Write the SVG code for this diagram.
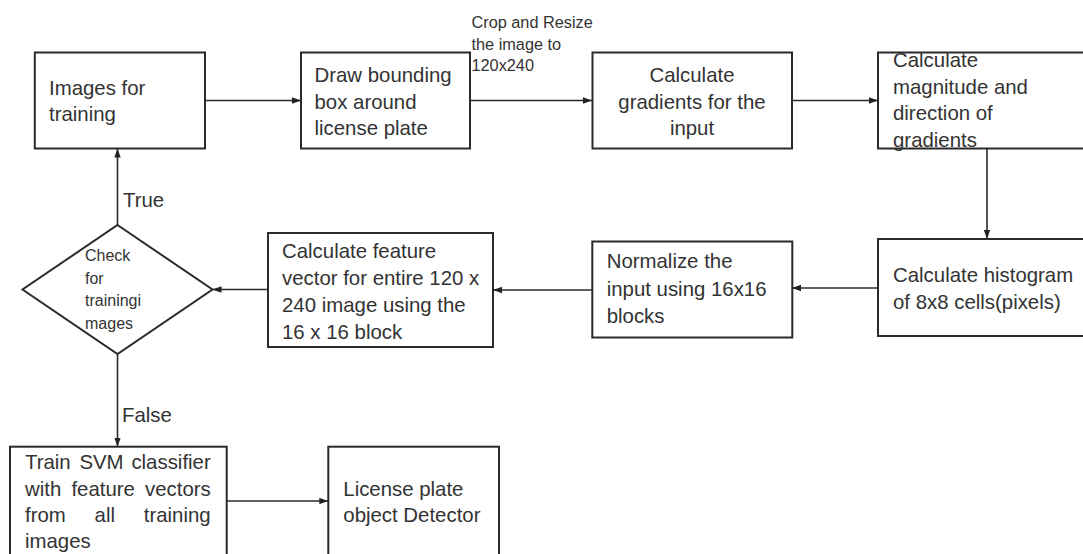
<svg xmlns="http://www.w3.org/2000/svg" width="1083" height="554" viewBox="0 0 1083 554">
<defs>
<marker id="ah" markerUnits="userSpaceOnUse" markerWidth="9" markerHeight="8" refX="9" refY="4" orient="auto">
<path d="M0,0.8 L9,4 L0,7.2 z" fill="#222"/>
</marker>
<style>
.box{fill:#fff;stroke:#2a2a2a;stroke-width:2}
.t{font-family:"Liberation Sans",Arial,sans-serif;font-size:20.4px;fill:#333}
.s{font-family:"Liberation Sans",Arial,sans-serif;font-size:16.3px;fill:#333}
.d{font-family:"Liberation Sans",Arial,sans-serif;font-size:16px;fill:#333}
.c{fill:none;stroke:#2a2a2a;stroke-width:1.6}
</style>
</defs>
<rect width="1083" height="554" fill="#fff"/>
<g id="connectors">
<line class="c" x1="205" y1="100.5" x2="301" y2="100.5" marker-end="url(#ah)"/>
<line class="c" x1="470" y1="100.5" x2="592" y2="100.5" marker-end="url(#ah)"/>
<line class="c" x1="792" y1="100.5" x2="878" y2="100.5" marker-end="url(#ah)"/>
<line class="c" x1="987" y1="148.5" x2="987" y2="239" marker-end="url(#ah)"/>
<line class="c" x1="878" y1="288" x2="792" y2="288" marker-end="url(#ah)"/>
<line class="c" x1="592" y1="290" x2="493" y2="290" marker-end="url(#ah)"/>
<line class="c" x1="268" y1="289.5" x2="212.5" y2="289.5" marker-end="url(#ah)"/>
<line class="c" x1="117.5" y1="225" x2="117.5" y2="148.5" marker-end="url(#ah)"/>
<line class="c" x1="117.5" y1="354" x2="117.5" y2="446.7" marker-end="url(#ah)"/>
<line class="c" x1="226.7" y1="501" x2="328.3" y2="501" marker-end="url(#ah)"/>
<text class="t" x="123" y="207">True</text>
<text class="t" x="122" y="422">False</text>
<text class="s"><tspan x="471.5" y="28">Crop and Resize</tspan><tspan x="471.5" y="49.7">the image to</tspan><tspan x="471.5" y="71.4">120x240</tspan></text>
</g>
<g id="n1">
<rect class="box" x="34.8" y="52.5" width="170.2" height="96"/>
<text class="t"><tspan x="49" y="94.5">Images for</tspan><tspan x="49" y="121.2">training</tspan></text>
</g>
<g id="n2">
<rect class="box" x="301" y="52.5" width="169" height="96"/>
<text class="t"><tspan x="314.5" y="82">Draw bounding</tspan><tspan x="314.5" y="108.7">box around</tspan><tspan x="314.5" y="135.4">license plate</tspan></text>
</g>
<g id="n3">
<rect class="box" x="592.5" y="52.5" width="199.5" height="96"/>
<text class="t" text-anchor="middle"><tspan x="692" y="82">Calculate</tspan><tspan x="692" y="108.7">gradients for the</tspan><tspan x="692" y="135.4">input</tspan></text>
</g>
<g id="n4">
<rect class="box" x="878" y="52.5" width="215" height="96"/>
<text class="t"><tspan x="893" y="66.7">Calculate</tspan><tspan x="893" y="93.5">magnitude and</tspan><tspan x="893" y="120.3">direction of</tspan><tspan x="893" y="147">gradients</tspan></text>
</g>
<g id="n5">
<rect class="box" x="878" y="239" width="215" height="97"/>
<text class="t"><tspan x="893" y="282">Calculate histogram</tspan><tspan x="893" y="309">of 8x8 cells(pixels)</tspan></text>
</g>
<g id="n6">
<rect class="box" x="592.3" y="241.5" width="200" height="96"/>
<text class="t"><tspan x="606.7" y="268.3">Normalize the</tspan><tspan x="606.7" y="295.5">input using 16x16</tspan><tspan x="606.7" y="322.7">blocks</tspan></text>
</g>
<g id="n7">
<rect class="box" x="268" y="233" width="225" height="114"/>
<text class="t"><tspan x="282" y="258">Calculate feature</tspan><tspan x="282" y="285">vector for entire 120 x</tspan><tspan x="282" y="312">240 image using the</tspan><tspan x="282" y="339">16 x 16 block</tspan></text>
</g>
<g id="n8">
<polygon class="box" points="117.5,225 212.5,289.5 117.5,354 22.5,289.5"/>
<text class="d"><tspan x="85" y="261">Check</tspan><tspan x="85" y="283.5">for</tspan><tspan x="85" y="306">trainingi</tspan><tspan x="85" y="328.5">mages</tspan></text>
</g>
<g id="n9">
<rect class="box" x="10" y="446.7" width="216.7" height="120"/>
<text class="t"><tspan x="25" y="469">Train</tspan><tspan x="79.4" y="469">SVM</tspan><tspan x="131.4" y="469">classifier</tspan><tspan x="25" y="495.7">with</tspan><tspan x="71.4" y="495.7">feature</tspan><tspan x="145" y="495.7">vectors</tspan><tspan x="25" y="522">from</tspan><tspan x="94.6" y="522">all</tspan><tspan x="143.8" y="522">training</tspan><tspan x="25" y="548">images</tspan></text>
</g>
<g id="n10">
<rect class="box" x="328.3" y="446.7" width="170.7" height="120"/>
<text class="t"><tspan x="343.3" y="495.7">License plate</tspan><tspan x="343.3" y="522">object Detector</tspan></text>
</g>
</svg>
